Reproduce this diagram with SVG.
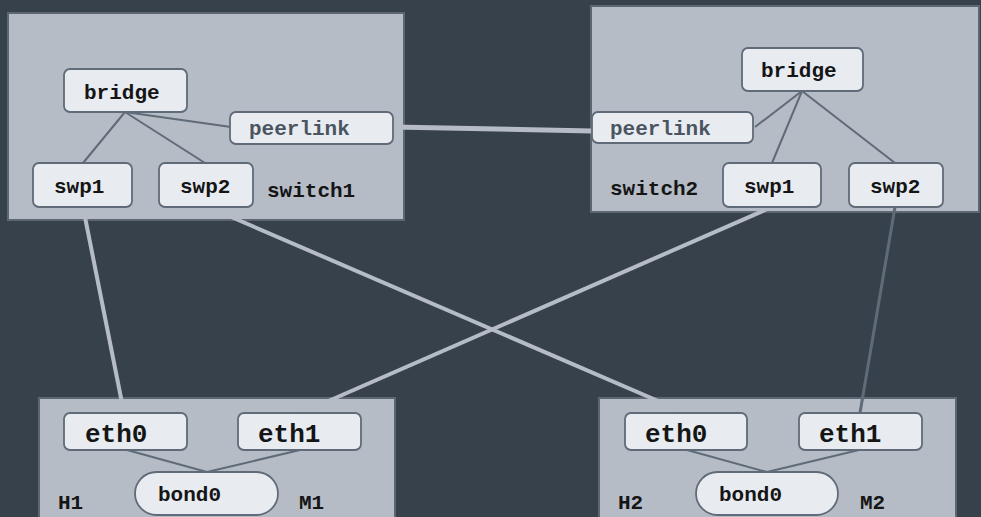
<svg xmlns="http://www.w3.org/2000/svg" width="981" height="517" viewBox="0 0 981 517">
  <style>
    .bg { fill: #37414b; }
    .cluster { fill: #b5bcc6; stroke: #5c6773; stroke-width: 2; }
    .node { fill: #e8ecf1; stroke: #5f6b78; stroke-width: 1.8; }
    .lbl { font-family: "Liberation Mono", "Courier New", monospace; font-weight: bold; font-size: 21px; fill: #151515; }
    .big { font-size: 26px; }
    .peer { fill: #4b5561; }
    .inner { stroke: #5f6b78; stroke-width: 2; fill: none; }
    .wire { stroke: #b5bcc6; stroke-width: 4; fill: none; }
    .wire-dark { stroke: #5f6b78; stroke-width: 3; fill: none; }
    .peerwire { stroke: #b5bcc6; stroke-width: 5; fill: none; }
  </style>

  <rect class="bg" x="0" y="0" width="981" height="517"/>

  <!-- containers -->
  <g id="switch1">
    <rect class="cluster" x="8" y="13" width="396" height="207"/>
    <text class="lbl" x="267" y="197">switch1</text>
  </g>
  <g id="switch2">
    <rect class="cluster" x="591" y="6" width="388" height="206"/>
    <text class="lbl" x="610" y="195">switch2</text>
  </g>
  <g id="host1">
    <rect class="cluster" x="39" y="398" width="356" height="130"/>
    <text class="lbl" x="58" y="509">H1</text>
    <text class="lbl" x="299" y="509">M1</text>
  </g>
  <g id="host2">
    <rect class="cluster" x="599" y="398" width="357" height="130"/>
    <text class="lbl" x="618" y="509">H2</text>
    <text class="lbl" x="860" y="509">M2</text>
  </g>

  <!-- connectors -->
  <g id="connectors">
    <line class="inner" x1="125" y1="112" x2="83" y2="163"/>
    <line class="inner" x1="125" y1="112" x2="205" y2="163"/>
    <line class="inner" x1="125" y1="112" x2="231" y2="127"/>
    <line class="inner" x1="802" y1="91" x2="755" y2="127"/>
    <line class="inner" x1="802" y1="91" x2="772" y2="163"/>
    <line class="inner" x1="802" y1="91" x2="895" y2="163"/>
    <line class="inner" x1="127" y1="450" x2="207" y2="472"/>
    <line class="inner" x1="300" y1="450" x2="207" y2="472"/>
    <line class="inner" x1="687" y1="450" x2="767" y2="472"/>
    <line class="inner" x1="859" y1="450" x2="767" y2="472"/>
    <line class="peerwire" x1="393" y1="127" x2="592" y2="131"/>
    <line class="wire" x1="83" y1="207" x2="124" y2="413"/>
    <line class="wire" x1="208" y1="207" x2="686" y2="413"/>
    <line class="wire" x1="772" y1="207" x2="301" y2="413"/>
    <line class="wire-dark" x1="895" y1="207" x2="860" y2="413"/>
  </g>

  <!-- switch1 nodes -->
  <g id="sw1-bridge">
    <rect class="node" x="64" y="69" width="123" height="43" rx="6"/>
    <text class="lbl" x="84" y="99">bridge</text>
  </g>
  <g id="sw1-peerlink">
    <rect class="node" x="230" y="112" width="163" height="32" rx="6"/>
    <text class="lbl peer" x="249" y="135">peerlink</text>
  </g>
  <g id="sw1-swp1">
    <rect class="node" x="33" y="163" width="99" height="44" rx="6"/>
    <text class="lbl" x="54" y="193">swp1</text>
  </g>
  <g id="sw1-swp2">
    <rect class="node" x="159" y="163" width="94" height="44" rx="6"/>
    <text class="lbl" x="180" y="193">swp2</text>
  </g>

  <!-- switch2 nodes -->
  <g id="sw2-bridge">
    <rect class="node" x="742" y="48" width="121" height="43" rx="6"/>
    <text class="lbl" x="761" y="77">bridge</text>
  </g>
  <g id="sw2-peerlink">
    <rect class="node" x="592" y="112" width="161" height="31" rx="6"/>
    <text class="lbl peer" x="610" y="135">peerlink</text>
  </g>
  <g id="sw2-swp1">
    <rect class="node" x="723" y="163" width="98" height="44" rx="6"/>
    <text class="lbl" x="744" y="193">swp1</text>
  </g>
  <g id="sw2-swp2">
    <rect class="node" x="849" y="163" width="94" height="44" rx="6"/>
    <text class="lbl" x="870" y="193">swp2</text>
  </g>

  <!-- host1 nodes -->
  <g id="h1-eth0">
    <rect class="node" x="64" y="413" width="123" height="37" rx="6"/>
    <text class="lbl big" x="85" y="442">eth0</text>
  </g>
  <g id="h1-eth1">
    <rect class="node" x="238" y="413" width="123" height="37" rx="6"/>
    <text class="lbl big" x="258" y="442">eth1</text>
  </g>
  <g id="h1-bond0">
    <rect class="node" x="135" y="472" width="143" height="43" rx="21.5"/>
    <text class="lbl" x="158" y="501">bond0</text>
  </g>

  <!-- host2 nodes -->
  <g id="h2-eth0">
    <rect class="node" x="625" y="413" width="122" height="37" rx="6"/>
    <text class="lbl big" x="645" y="442">eth0</text>
  </g>
  <g id="h2-eth1">
    <rect class="node" x="799" y="413" width="123" height="37" rx="6"/>
    <text class="lbl big" x="819" y="442">eth1</text>
  </g>
  <g id="h2-bond0">
    <rect class="node" x="696" y="472" width="142" height="43" rx="21.5"/>
    <text class="lbl" x="719" y="501">bond0</text>
  </g>
</svg>
